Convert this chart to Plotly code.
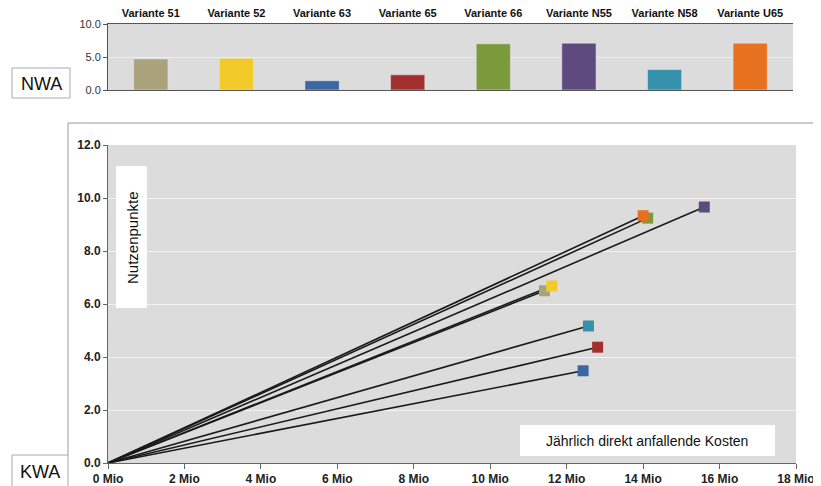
import plotly.graph_objects as go

OFF = 8  # page body margin
W, H = 821 - OFF, 486 - OFF

variants = ["Variante 51", "Variante 52", "Variante 63", "Variante 65",
            "Variante 66", "Variante N55", "Variante N58", "Variante U65"]
nwa = [4.7, 4.8, 1.4, 2.3, 7.0, 7.1, 3.1, 7.1]
kosten_mio = [11.42, 11.61, 12.43, 12.81, 14.12, 15.6, 12.57, 14.0]
nutzen = [6.50, 6.68, 3.48, 4.37, 9.24, 9.66, 5.17, 9.33]
colors = ["#a9a27a", "#f2cb2a", "#3c67a3", "#a3302e", "#7b9a3c", "#5f4a7f", "#3592aa", "#e8711f"]
x_ticks = list(range(0, 19, 2))
x_tick_labels = [f"{v} Mio" for v in x_ticks]


def px(x):
    return (x - OFF) / W


def py(y):
    return 1 - (y - OFF) / H


fig = go.Figure()

# top bar chart
fig.add_trace(go.Bar(x=variants, y=nwa, marker_color=colors, width=0.4,
                     xaxis="x", yaxis="y", showlegend=False))

# lower chart: lines from origin, then markers
for i in range(len(variants)):
    fig.add_trace(go.Scatter(x=[0, kosten_mio[i]], y=[0, nutzen[i]], mode="lines",
                             line=dict(color="#1a1a1a", width=1.6),
                             xaxis="x2", yaxis="y2", showlegend=False, hoverinfo="skip"))
draw_order = [0, 1, 2, 3, 6, 5, 4, 7]
for i in draw_order:
    fig.add_trace(go.Scatter(x=[kosten_mio[i]], y=[nutzen[i]], mode="markers",
                             marker=dict(symbol="square", size=11, color=colors[i]),
                             name=variants[i],
                             xaxis="x2", yaxis="y2", showlegend=False))

bold_narrow = dict(family="Liberation Sans Narrow, Arial Narrow, Arial", size=12, color="#222",
                   weight="bold")

fig.update_layout(
    width=W, height=H,
    margin=dict(l=0, r=0, t=0, b=0, autoexpand=False),
    paper_bgcolor="white",
    plot_bgcolor="#dcdcdc",
    bargap=0.6,
    xaxis=dict(domain=[px(108), px(793)], anchor="y", side="top", automargin=False,
               showgrid=False, ticks="", showline=True, linecolor="#555", linewidth=1, mirror=True,
               tickfont=dict(family="Arial", size=11, color="#111", weight="bold"),
               ticklabelstandoff=2),
    yaxis=dict(domain=[py(90), py(24)], anchor="x", range=[0, 10], automargin=False,
               tickvals=[0, 5, 10], ticktext=["0.0", "5.0", "10.0"],
               showgrid=True, gridcolor="#eeeeee", zeroline=False,
               showline=True, linecolor="#555", linewidth=1, ticks="outside", ticklen=4,
               tickcolor="#555",
               tickfont=dict(family="Arial", size=11, color="#333")),
    xaxis2=dict(domain=[px(108), px(796)], anchor="y2", range=[0, 18], automargin=False,
                tickvals=x_ticks, ticktext=x_tick_labels,
                showgrid=False, zeroline=False, showline=True, linecolor="#666",
                ticks="outside", ticklen=5, tickcolor="#666",
                tickfont=bold_narrow),
    yaxis2=dict(domain=[py(463), py(145)], anchor="x2", range=[0, 12], automargin=False,
                tickvals=[0, 2, 4, 6, 8, 10, 12],
                ticktext=["0.0", "2.0", "4.0", "6.0", "8.0", "10.0", "12.0"],
                showgrid=True, gridcolor="#f2f2f2", gridwidth=1, zeroline=False,
                showline=True, linecolor="#666", ticks="outside", ticklen=4, tickcolor="#666",
                tickfont=bold_narrow),
)

# frame around the lower chart
fig.add_shape(type="line", xref="paper", yref="paper", x0=px(68), x1=1, y0=py(123), y1=py(123),
              line=dict(color="#999", width=1))
fig.add_shape(type="line", xref="paper", yref="paper", x0=px(68), x1=px(68), y0=py(123), y1=py(455),
              line=dict(color="#999", width=1))

# label boxes
boxes = [
    ("NWA", 12, 68, 70, 98, 18),
    ("KWA", 12, 455, 68, 492, 18),
]
for text, x0, y0, x1, y1, size in boxes:
    fig.add_shape(type="rect", xref="paper", yref="paper", x0=px(x0), x1=px(x1), y0=py(y1), y1=py(y0),
                  line=dict(color="#aaa", width=1), fillcolor="white")
fig.add_annotation(text="NWA", xref="paper", yref="paper", x=px(41), y=py(84),
                   xanchor="center", yanchor="middle", showarrow=False,
                   font=dict(family="Arial", size=18, color="#111"))
fig.add_annotation(text="KWA", xref="paper", yref="paper", x=px(40), y=py(472),
                   xanchor="center", yanchor="middle", showarrow=False,
                   font=dict(family="Arial", size=18, color="#111"))

fig.add_shape(type="rect", xref="paper", yref="paper", x0=px(116), x1=px(147), y0=py(308), y1=py(166),
              line=dict(width=0), fillcolor="white")
fig.add_annotation(text="Nutzenpunkte", xref="paper", yref="paper", x=px(132), y=py(237),
                   xanchor="center", yanchor="middle",
                   showarrow=False, textangle=-90, font=dict(family="Arial", size=15, color="#111"))
fig.add_shape(type="rect", xref="paper", yref="paper", x0=px(520), x1=px(775), y0=py(456), y1=py(425),
              line=dict(width=0), fillcolor="white")
fig.add_annotation(text="Jährlich direkt anfallende Kosten", xref="paper", yref="paper",
                   x=px(647), y=py(441), xanchor="center", yanchor="middle", showarrow=False,
                   font=dict(family="Arial", size=14, color="#111"))

fig.write_html("out.html")
